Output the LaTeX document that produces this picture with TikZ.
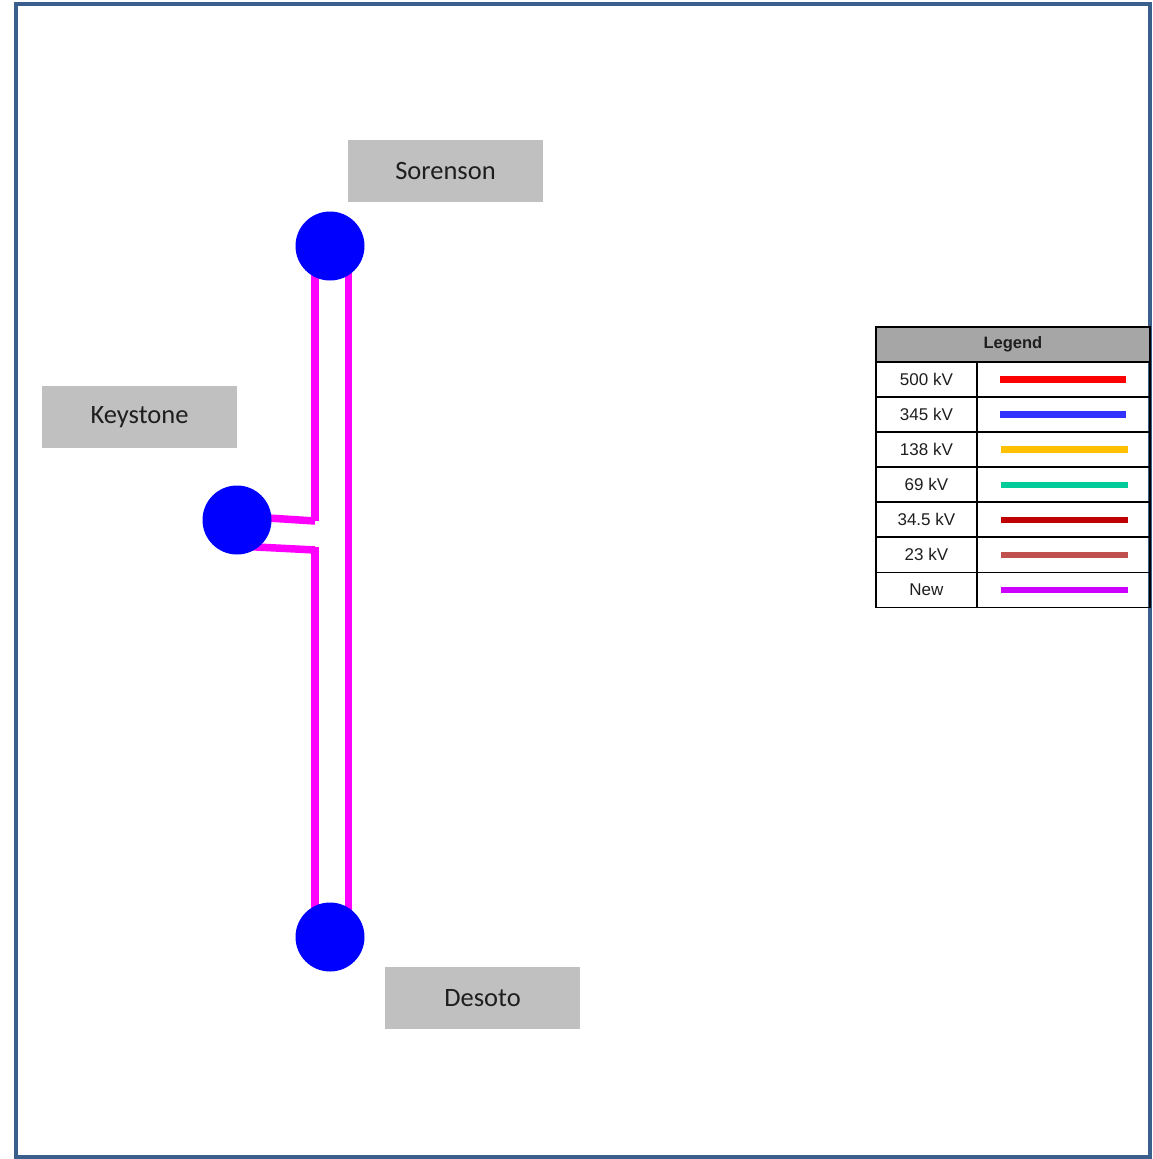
\documentclass[tikz,border=0pt]{standalone}
\usepackage{fontspec}
\setmainfont{Liberation Sans}
\newfontfamily\labelfont{Carlito}
\usetikzlibrary{calc}
\definecolor{frameblue}{RGB}{58,95,140}
\definecolor{labelgray}{RGB}{192,192,192}
\definecolor{headgray}{RGB}{166,166,166}
\definecolor{busblue}{RGB}{0,0,255}
\definecolor{newmag}{RGB}{255,0,255}
\definecolor{lgred}{RGB}{255,0,0}
\definecolor{lgblue}{RGB}{51,51,255}
\definecolor{lgyellow}{RGB}{255,192,0}
\definecolor{lggreen}{RGB}{0,204,153}
\definecolor{lgdarkred}{RGB}{192,0,0}
\definecolor{lgbrick}{RGB}{192,80,77}
\definecolor{lgpurple}{RGB}{204,0,255}
\definecolor{txt}{RGB}{30,30,30}
\tikzset{
  subname/.style={fill=labelgray, draw=none, minimum width=195pt, minimum height=62pt, inner sep=0pt, text=txt, font=\labelfont\fontsize{26.5}{30}\selectfont},
  bus/.style={circle, fill=busblue, draw=none, minimum size=69pt, inner sep=0pt},
  newline/.style={draw=newmag, line width=7.5pt},
  lgcell/.style={draw=black, line width=1.8pt, minimum height=35pt, inner sep=0pt, text=txt, font=\fontsize{17}{20}\selectfont},
  lgsample/.style={line width=6.5pt}
}
\begin{document}
\begin{tikzpicture}[x=1pt,y=-1pt]
\useasboundingbox (0,0) rectangle (1153,1159);
\fill[white] (0,0) rectangle (1153,1159);
\draw[frameblue, line width=4pt] (16,4) rectangle (1150,1157);

% labels
\node[subname] (sorlbl) at (445.5,171) {\raisebox{-1.5pt}{Sorenson}};
\node[subname] (keylbl) at (139.5,417) {\raisebox{-1.5pt}{Keystone}};
\node[subname] (deslbl) at (482.5,998) {\raisebox{-1.5pt}{Desoto}};

% bus positions
\path (330,246) coordinate (sorc);
\path (237,520) coordinate (keyc);
\path (330,937) coordinate (desc);

% lines
\draw[newline] ($(sorc)+(18.5,0)$) -- ($(desc)+(18.5,0)$);
\draw[newline] ($(sorc)+(-15,0)$) -- ($(sorc)+(-15,275)$);
\draw[newline] ($(sorc)+(-15,275)$) -- ($(keyc)+(0,-4)$);
\draw[newline] ($(keyc)+(0,26)$) -- ($(desc)+(-15,-387)$);
\draw[newline] ($(desc)+(-15,-390)$) -- ($(desc)+(-15,0)$);

\node[bus] (sor) at (sorc) {};
\node[bus] (key) at (keyc) {};
\node[bus] (des) at (desc) {};

% legend
\node[lgcell, fill=headgray, minimum width=274pt, anchor=north west, font=\bfseries\fontsize{16.5}{19}\selectfont] (lghead) at (875,326) {\raisebox{-2pt}{Legend}};
\foreach \i/\t/\c/\xa/\xb in {0/500 kV/lgred/1000/1126,1/345 kV/lgblue/1000/1126,2/138 kV/lgyellow/1001/1128,3/69 kV/lggreen/1001/1128,4/34.5 kV/lgdarkred/1001/1128,5/23 kV/lgbrick/1001/1128,6/New/lgpurple/1001/1128}{
  \node[lgcell, minimum width=101pt, anchor=north west] (lgt\i) at (875,361+35.1*\i) {\t};
  \node[lgcell, minimum width=173pt, anchor=north west] (lgs\i) at (976,361+35.1*\i) {};
  \draw[lgsample, \c] (\xa,379.5+35.1*\i) -- (\xb,379.5+35.1*\i);
}
\end{tikzpicture}
\end{document}
